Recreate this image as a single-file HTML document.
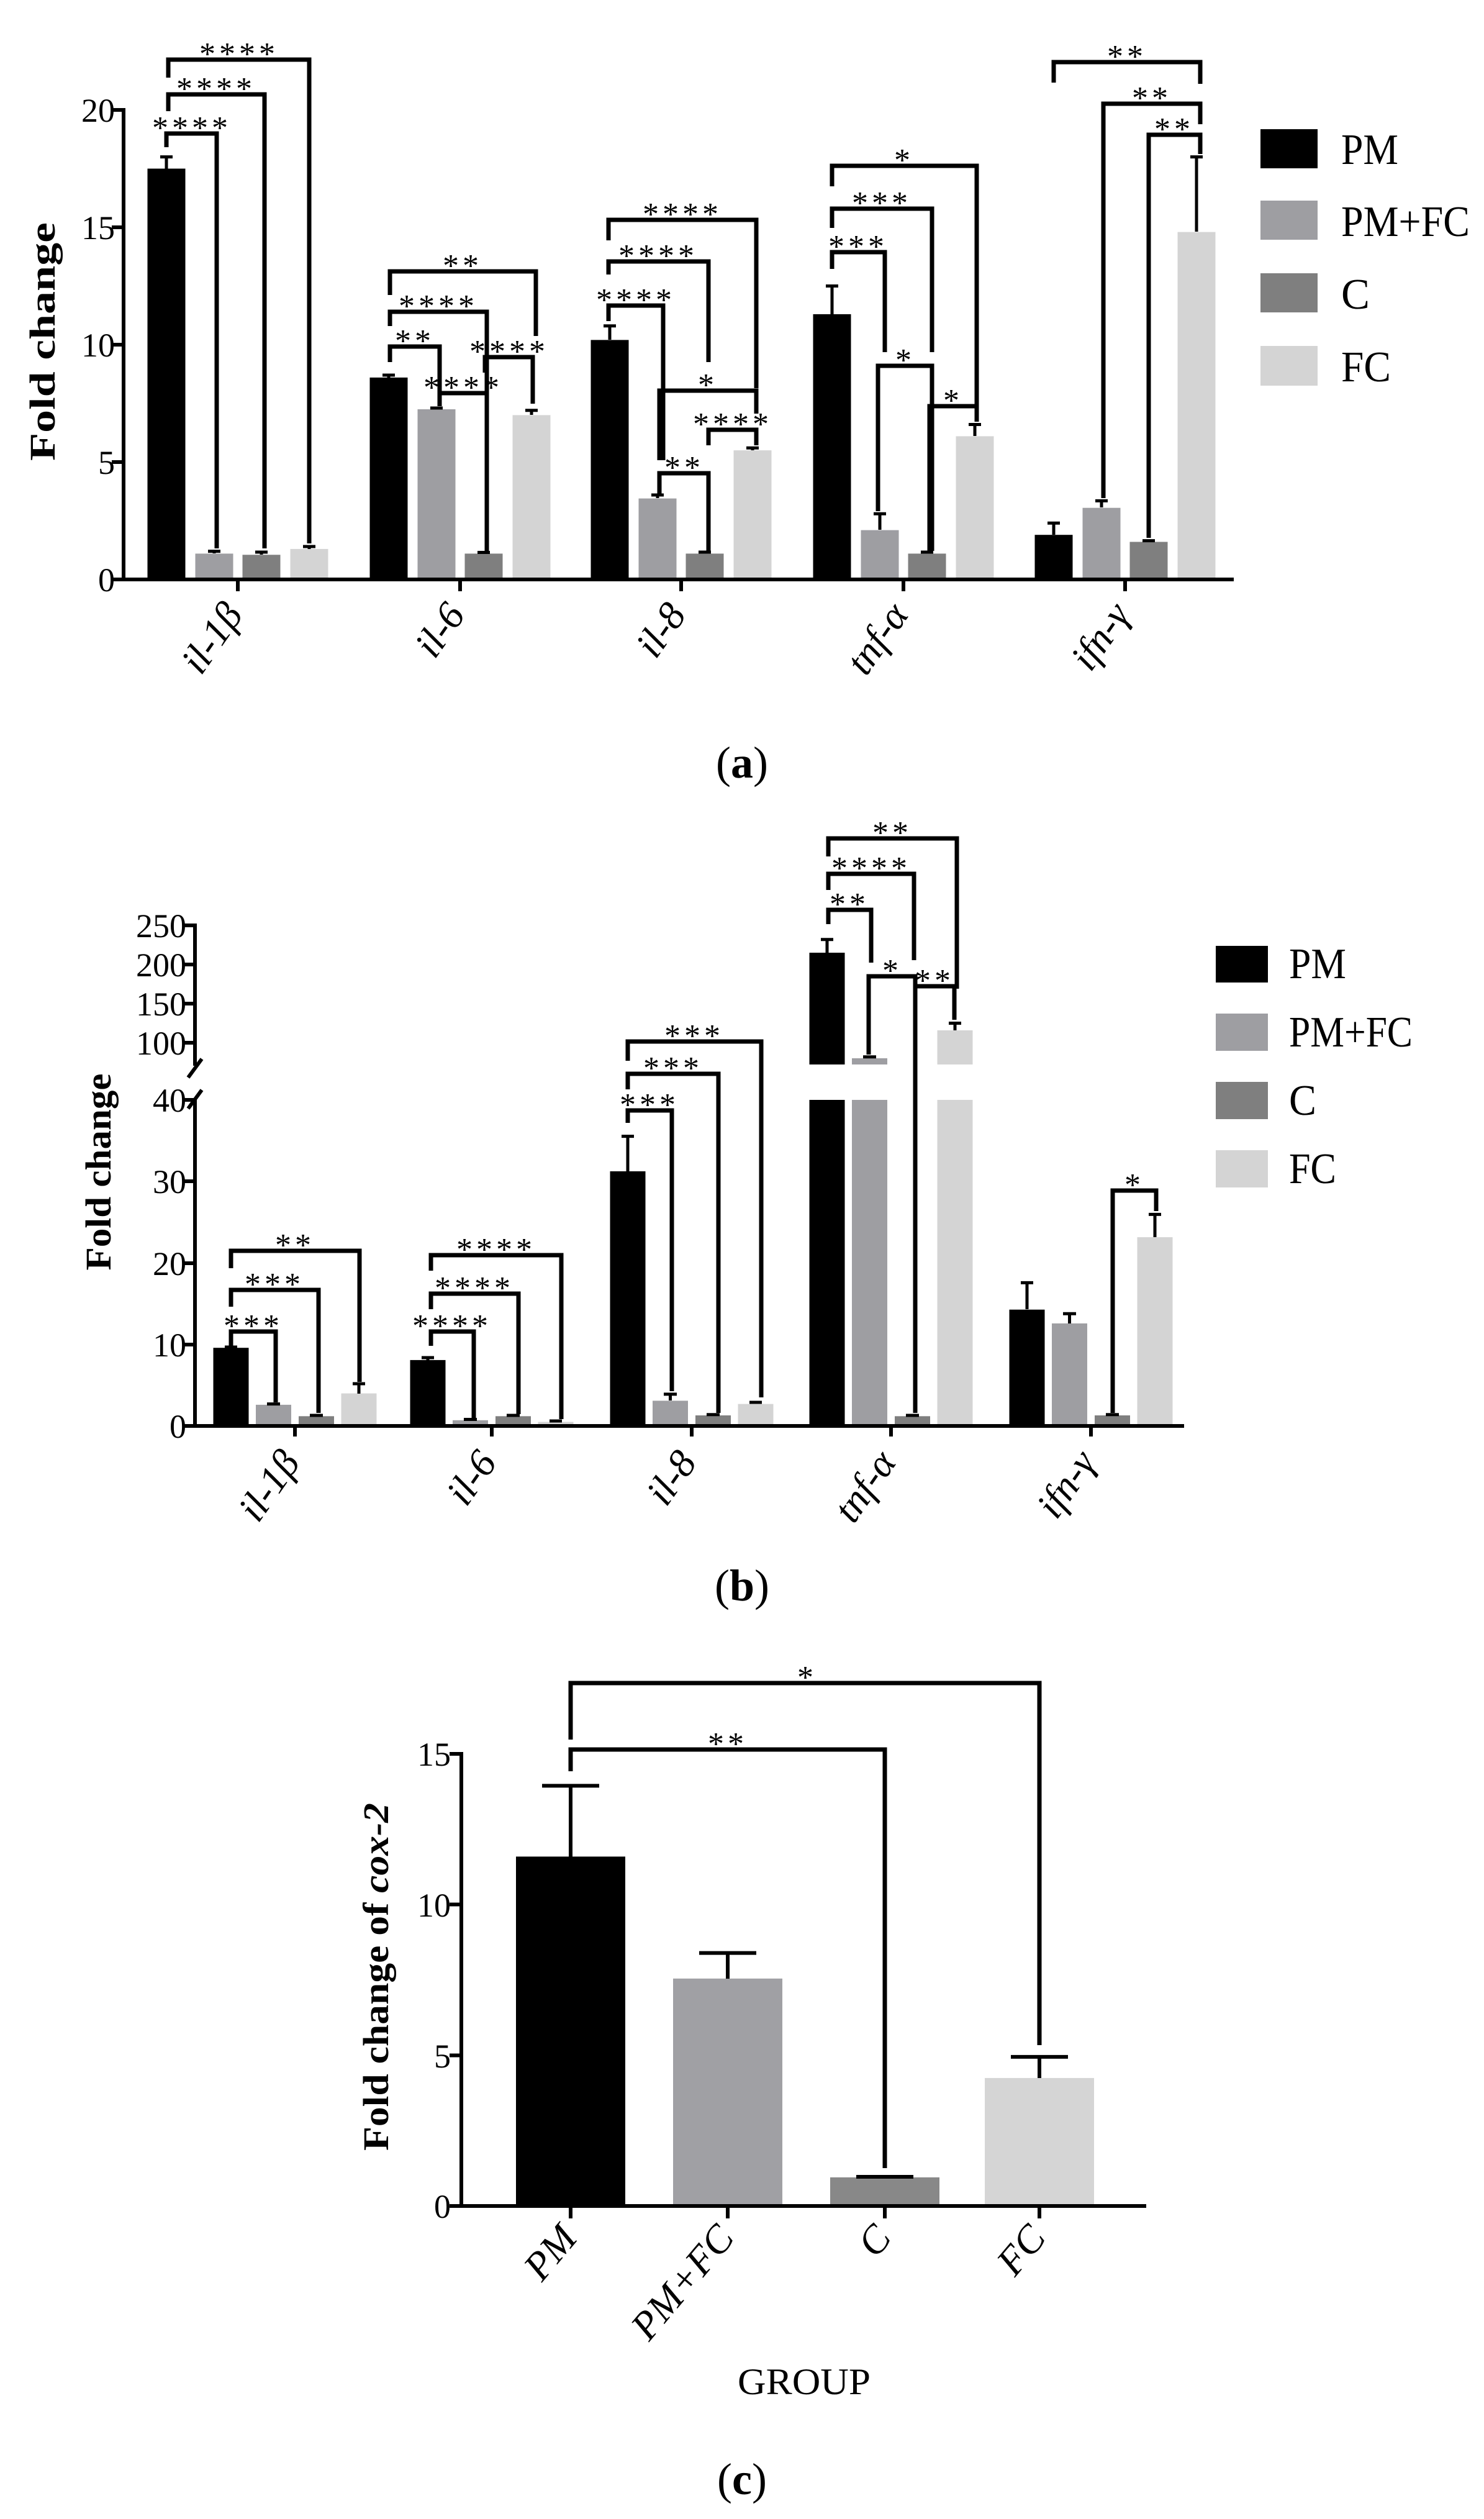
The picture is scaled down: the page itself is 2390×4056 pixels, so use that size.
<!DOCTYPE html>
<html><head><meta charset="utf-8"><style>
html,body{margin:0;padding:0;background:#fff}
svg{display:block}
text{font-family:"Liberation Serif",serif;fill:#000}
.t{font-size:54px;text-anchor:end}
.s{font-size:52px;text-anchor:middle;letter-spacing:6px}
.xl{font-size:64px;font-style:italic;text-anchor:end}
.lg{font-size:70px}
.yt{font-size:58px;font-weight:bold;text-anchor:middle}
.br{fill:none;stroke:#000;stroke-width:7}
.ax{fill:none;stroke:#000;stroke-width:6}
.eb{fill:none;stroke:#000;stroke-width:5}
</style></head><body>
<svg width="2390" height="4056" viewBox="0 0 2390 4056" xmlns="http://www.w3.org/2000/svg">
<rect width="2390" height="4056" fill="#fff"/>
<!-- ================= PANEL A ================= -->
<g>
<g fill="#000">
<rect x="237.5" y="271.5" width="61" height="661.5"/>
<rect x="595.5" y="607.9" width="61" height="325.1"/>
<rect x="951.5" y="547.4" width="61" height="385.6"/>
<rect x="1309.5" y="505.9" width="61" height="427.1"/>
<rect x="1666.5" y="861.2" width="61" height="71.8"/>
</g>
<g fill="#9e9ea2">
<rect x="314.5" y="891.4" width="61" height="41.6"/>
<rect x="672.5" y="659" width="61" height="274"/>
<rect x="1028.5" y="802.6" width="61" height="130.4"/>
<rect x="1386.5" y="853.6" width="61" height="79.4"/>
<rect x="1743.5" y="817.7" width="61" height="115.3"/>
</g>
<g fill="#7f7f7f">
<rect x="390.5" y="893.3" width="61" height="39.7"/>
<rect x="748.5" y="891.4" width="61" height="41.6"/>
<rect x="1104.5" y="891.4" width="61" height="41.6"/>
<rect x="1462.5" y="891.4" width="61" height="41.6"/>
<rect x="1819.5" y="872.5" width="61" height="60.5"/>
</g>
<g fill="#d4d4d4">
<rect x="467.5" y="883.9" width="61" height="49.1"/>
<rect x="825.5" y="668.4" width="61" height="264.6"/>
<rect x="1181.5" y="725.1" width="61" height="207.9"/>
<rect x="1539.5" y="702.4" width="61" height="230.6"/>
<rect x="1896.5" y="373.6" width="61" height="559.4"/>
</g>
<path class="eb" d="M268 271.5V252.6M258 252.6H278 M345 891V887.6M335 887.6H355 M421 893V889M411 889H431 M498 884V880M488 880H508
M626 608V604M616 604H636 M703 659V657M693 657H713 M779 891V889.5M769 889.5H789 M856 668V660.8M846 660.8H866
M982 547V524.8M972 524.8H992 M1059 802V797M1049 797H1069 M1135 891V889M1125 889H1145 M1212 725V721.3M1202 721.3H1222
M1340 506V460.5M1330 460.5H1350 M1417 853V827.2M1407 827.2H1427 M1493 891V889M1483 889H1503 M1570 702V683.5M1560 683.5H1580
M1697 861V842.3M1687 842.3H1707 M1774 817V806.4M1764 806.4H1784 M1850 872V870.6M1840 870.6H1860 M1927 373V252.6M1917 252.6H1937"/>
<path class="ax" d="M199 174V936M180 177H199M180 366H199M180 555H199M180 744H199M180 933H199 M196 933H1987 M383 933V952M741 933V952M1097 933V952M1455 933V952M1812 933V952"/>
<text class="t" x="185" y="196">20</text>
<text class="t" x="185" y="385">15</text>
<text class="t" x="185" y="574">10</text>
<text class="t" x="185" y="763">5</text>
<text class="t" x="185" y="952">0</text>
<text class="yt" transform="translate(88,550) rotate(-90)" textLength="384" lengthAdjust="spacingAndGlyphs">Fold change</text>
<text class="xl" transform="translate(393,990) rotate(-55)">il-1β</text>
<text class="xl" transform="translate(751,990) rotate(-55)">il-6</text>
<text class="xl" transform="translate(1107,990) rotate(-55)">il-8</text>
<text class="xl" transform="translate(1465,990) rotate(-55)">tnf-α</text>
<text class="xl" transform="translate(1822,990) rotate(-55)">ifn-γ</text>
<path class="br" d="M268 237V215H349V883 M271 179V152H426V883 M271 125V96H498V875
M628 583V558H708V654 M628 525V502H784V883 M628 475V437H863V541 M781 600V575H858V650 M708 654V633H784V887
M980 517V492H1068V741 M980 442V421H1141V583 M980 387V354H1218V625 M1062 741V629H1218V666 M1141 717V692H1218V717 M1062 796V762H1141V887
M1340 433V406H1425V567 M1340 367V336H1501V567 M1340 300V267H1573V658 M1414 823V589H1501V887 M1497 887V654H1573V679
M1697 133V100H1933V135 M1777 802V167H1933V200 M1850 866V217H1933V248"/>
<text class="s" x="309" y="223">****</text>
<text class="s" x="348" y="160">****</text>
<text class="s" x="385" y="104">****</text>
<text class="s" x="668" y="566">**</text>
<text class="s" x="706" y="510">****</text>
<text class="s" x="745" y="445">**</text>
<text class="s" x="820" y="583">****</text>
<text class="s" x="746" y="641">****</text>
<text class="s" x="1024" y="500">****</text>
<text class="s" x="1060" y="429">****</text>
<text class="s" x="1099" y="362">****</text>
<text class="s" x="1140" y="637">*</text>
<text class="s" x="1180" y="700">****</text>
<text class="s" x="1102" y="770">**</text>
<text class="s" x="1382" y="414">***</text>
<text class="s" x="1420" y="344">***</text>
<text class="s" x="1456" y="275">*</text>
<text class="s" x="1458" y="597">*</text>
<text class="s" x="1535" y="662">*</text>
<text class="s" x="1815" y="108">**</text>
<text class="s" x="1855" y="175">**</text>
<text class="s" x="1891" y="225">**</text>
<rect x="2030" y="208" width="92" height="63" fill="#000"/>
<rect x="2030" y="323" width="92" height="63" fill="#9e9ea2"/>
<rect x="2030" y="440" width="92" height="63" fill="#7f7f7f"/>
<rect x="2030" y="557" width="92" height="64" fill="#d4d4d4"/>
<text class="lg" x="2160" y="264" textLength="92" lengthAdjust="spacingAndGlyphs">PM</text>
<text class="lg" x="2160" y="380" textLength="207" lengthAdjust="spacingAndGlyphs">PM+FC</text>
<text class="lg" x="2160" y="497" textLength="46" lengthAdjust="spacingAndGlyphs">C</text>
<text class="lg" x="2160" y="614" textLength="80" lengthAdjust="spacingAndGlyphs">FC</text>
<text x="1195" y="1252" font-size="72" text-anchor="middle">(<tspan font-weight="bold">a</tspan>)</text>
</g>

<!-- ================= PANEL B ================= -->
<g>
<g fill="#000">
<rect x="343.5" y="2170.2" width="57" height="125.8"/>
<rect x="660.5" y="2189.9" width="57" height="106.1"/>
<rect x="982.5" y="1886" width="57" height="410"/>
<rect x="1303.5" y="1771" width="57" height="525"/>
<rect x="1303.5" y="1534" width="57" height="180"/>
<rect x="1625.5" y="2108.7" width="57" height="187.3"/>
</g>
<g fill="#9e9ea2">
<rect x="412" y="2261.9" width="57" height="34.1"/>
<rect x="729" y="2286.8" width="57" height="9.2"/>
<rect x="1051" y="2255.4" width="57" height="40.6"/>
<rect x="1372" y="1771" width="57" height="525"/>
<rect x="1372" y="1704" width="57" height="10"/>
<rect x="1694" y="2130.9" width="57" height="165.1"/>
</g>
<g fill="#7f7f7f">
<rect x="481" y="2280.3" width="57" height="15.7"/>
<rect x="798" y="2280.3" width="57" height="15.7"/>
<rect x="1120" y="2279" width="57" height="17"/>
<rect x="1441" y="2280.3" width="57" height="15.7"/>
<rect x="1763" y="2279" width="57" height="17"/>
</g>
<g fill="#d4d4d4">
<rect x="549.5" y="2243.6" width="57" height="52.4"/>
<rect x="866.5" y="2289.5" width="57" height="6.5"/>
<rect x="1188.5" y="2260.6" width="57" height="35.4"/>
<rect x="1509.5" y="1771" width="57" height="525"/>
<rect x="1509.5" y="1659" width="57" height="55"/>
<rect x="1831.5" y="1992.1" width="57" height="303.9"/>
</g>
<path class="eb" d="M372 2170V2169M362 2169H382 M440.5 2262V2260.6M430 2260.6H451 M509.5 2280V2279M499 2279H520 M578 2244V2228M568 2228H588
M689 2190V2186M679 2186H699 M757.5 2287V2285.5M747 2285.5H768 M826.5 2280V2279M816 2279H837 M895 2289V2288M885 2288H905
M1011 1886V1829.6M1001 1829.6H1021 M1079.5 2255V2244.9M1069 2244.9H1090 M1148.5 2279V2277.7M1138 2277.7H1159 M1217 2260V2258M1207 2258H1227
M1332 1534V1512.7M1322 1512.7H1342 M1400.5 1704V1701.7M1390 1701.7H1411 M1469.5 2280V2279M1459 2279H1480 M1538 1659V1647.5M1528 1647.5H1548
M1654 2108V2065.4M1644 2065.4H1664 M1722.5 2131V2115.2M1712 2115.2H1733 M1791.5 2279V2277.7M1781 2277.7H1802 M1860 1992V1955.4M1850 1955.4H1870"/>
<path class="ax" d="M314 1487V1716M295 1490H314M295 1553H314M295 1616H314M295 1679H314
M314 1769V2299M295 1771H314M295 1902H314M295 2034H314M295 2165H314M295 2296H314
M311 2296H1907 M475 2296V2313M792 2296V2313M1114 2296V2313M1435 2296V2313M1757 2296V2313
M303 1735L325 1705 M303 1785L325 1755"/>
<text class="t" x="300" y="1509">250</text>
<text class="t" x="300" y="1572">200</text>
<text class="t" x="300" y="1635">150</text>
<text class="t" x="300" y="1698">100</text>
<text class="t" x="300" y="1790">40</text>
<text class="t" x="300" y="1921">30</text>
<text class="t" x="300" y="2053">20</text>
<text class="t" x="300" y="2184">10</text>
<text class="t" x="300" y="2315">0</text>
<text class="yt" font-size="54" transform="translate(178,1887) rotate(-90)" textLength="317" lengthAdjust="spacingAndGlyphs">Fold change</text>
<text class="xl" transform="translate(485,2355) rotate(-55)">il-1β</text>
<text class="xl" transform="translate(802,2355) rotate(-55)">il-6</text>
<text class="xl" transform="translate(1124,2355) rotate(-55)">il-8</text>
<text class="xl" transform="translate(1445,2355) rotate(-55)">tnf-α</text>
<text class="xl" transform="translate(1767,2355) rotate(-55)">ifn-γ</text>
<path class="br" d="M372 2167V2144H444V2258 M372 2104V2077H513V2275 M372 2042V2014H579V2225
M694 2167V2144H763V2283 M694 2108V2083H835V2277 M694 2046V2021H904V2285
M1011 1808V1788H1082V2240 M1011 1754V1729H1157V2275 M1011 1708V1677H1226V2250
M1334 1488V1465H1403V1550 M1334 1433V1407H1472V1546 M1334 1379V1350H1541V1592 M1399 1698V1572H1474V2275 M1474 2275V1588H1537V1642
M1792 2275V1917H1862V1950"/>
<text class="s" x="408" y="2152">***</text>
<text class="s" x="442" y="2085">***</text>
<text class="s" x="475" y="2022">**</text>
<text class="s" x="728" y="2152">****</text>
<text class="s" x="764" y="2091">****</text>
<text class="s" x="799" y="2029">****</text>
<text class="s" x="1046" y="1796">***</text>
<text class="s" x="1084" y="1737">***</text>
<text class="s" x="1118" y="1685">***</text>
<text class="s" x="1368" y="1473">**</text>
<text class="s" x="1403" y="1415">****</text>
<text class="s" x="1437" y="1358">**</text>
<text class="s" x="1437" y="1580">*</text>
<text class="s" x="1505" y="1596">**</text>
<text class="s" x="1827" y="1925">*</text>
<rect x="1958" y="1523" width="84" height="59" fill="#000"/>
<rect x="1958" y="1632" width="84" height="60" fill="#9e9ea2"/>
<rect x="1958" y="1742" width="84" height="60" fill="#7f7f7f"/>
<rect x="1958" y="1852" width="84" height="60" fill="#d4d4d4"/>
<text class="lg" font-size="66" x="2076" y="1575" textLength="92" lengthAdjust="spacingAndGlyphs">PM</text>
<text class="lg" font-size="66" x="2076" y="1685" textLength="199" lengthAdjust="spacingAndGlyphs">PM+FC</text>
<text class="lg" font-size="66" x="2076" y="1795" textLength="44" lengthAdjust="spacingAndGlyphs">C</text>
<text class="lg" font-size="66" x="2076" y="1905" textLength="76" lengthAdjust="spacingAndGlyphs">FC</text>
<text x="1195" y="2577" font-size="72" text-anchor="middle">(<tspan font-weight="bold">b</tspan>)</text>
</g>

<!-- ================= PANEL C ================= -->
<g>
<rect x="831" y="2989.4" width="176" height="562.6" fill="#000"/>
<rect x="1084" y="3185.8" width="176" height="366.2" fill="#a0a0a4"/>
<rect x="1337" y="3505.9" width="176" height="46.1" fill="#888"/>
<rect x="1586" y="3345.9" width="176" height="206.1" fill="#d5d5d5"/>
<path class="ax" d="M919 2990V2875.4M873 2875.4H965 M1172 3186V3144.6M1126 3144.6H1218 M1425 3506V3505M1379 3505H1471 M1674 3346V3311.9M1628 3311.9H1720"/>
<path class="ax" d="M743 2821V3555M724 2824H743M724 3066.5H743M724 3309.5H743M724 3552H743 M740 3552H1846 M919 3552V3572M1172 3552V3572M1425 3552V3572M1674 3552V3572"/>
<text class="t" x="726" y="2843">15</text>
<text class="t" x="726" y="3086">10</text>
<text class="t" x="726" y="3329">5</text>
<text class="t" x="726" y="3571">0</text>
<text class="yt" font-size="56" transform="translate(625,3183) rotate(-90)" textLength="560" lengthAdjust="spacingAndGlyphs">Fold change of <tspan font-style="italic">cox-2</tspan></text>
<text class="xl" transform="translate(932,3605) rotate(-50)">PM</text>
<text class="xl" transform="translate(1185,3605) rotate(-50)">PM+FC</text>
<text class="xl" transform="translate(1438,3605) rotate(-50)">C</text>
<text class="xl" transform="translate(1687,3605) rotate(-50)">FC</text>
<path class="br" d="M919 2852V2817H1425V3491 M919 2801V2710H1674V3293"/>
<text class="s" x="1172" y="2825">**</text>
<text class="s" x="1300" y="2718">*</text>
<text x="1295" y="3855" font-size="60" text-anchor="middle" textLength="214" lengthAdjust="spacingAndGlyphs">GROUP</text>
<text x="1195" y="4016" font-size="72" text-anchor="middle">(<tspan font-weight="bold">c</tspan>)</text>
</g>
</svg>
</body></html>
